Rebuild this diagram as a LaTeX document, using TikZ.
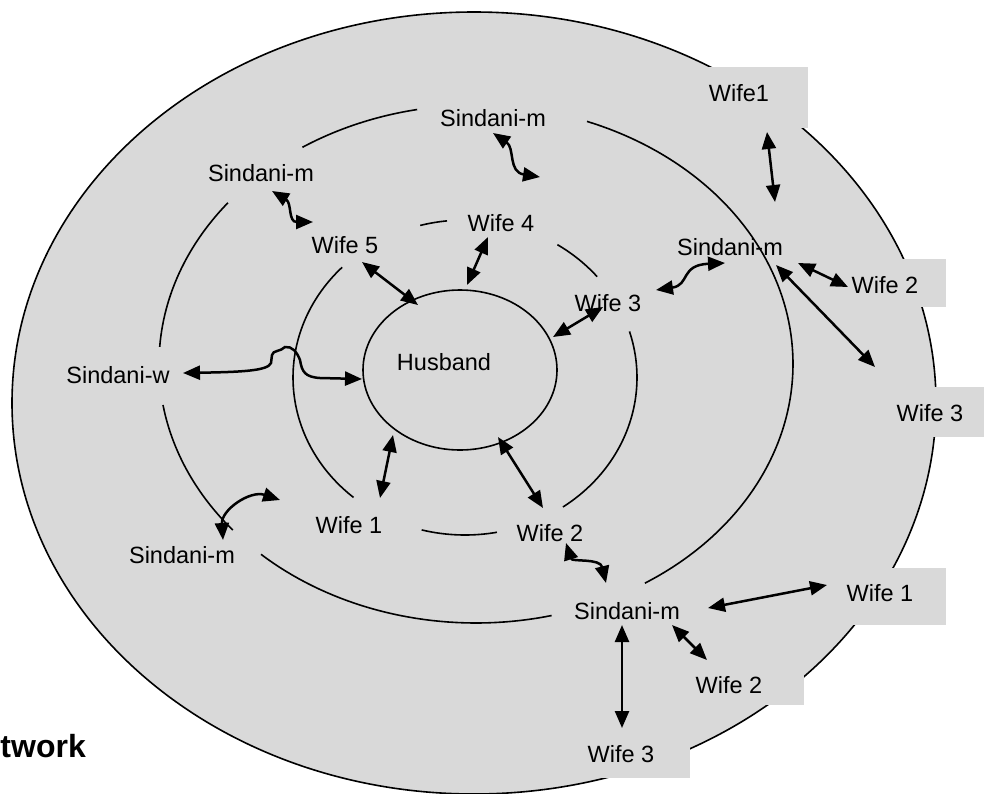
\documentclass[tikz,border=0pt]{standalone}
\usepackage{fontspec}
\setmainfont{Liberation Sans}
\usetikzlibrary{arrows.meta,shapes.geometric}
\definecolor{ringgray}{RGB}{217,217,217}
\newcommand\lbfont{\fontsize{23.5}{28}\selectfont}
\newcommand\ttlfont{\fontsize{32}{36}\selectfont\bfseries}
\begin{document}
\begin{tikzpicture}[x=1pt,y=-1pt,
  ring/.style={line width=1.6pt},
  arr/.style={line width=2.5pt,{Triangle[length=17pt,width=14pt]}-{Triangle[length=17pt,width=14pt]}},
  lbl/.style={inner sep=0pt,font=\lbfont},
  gbox/.style={fill=ringgray,draw=none}]
\useasboundingbox (0,0) rectangle (984,793);
% outer ellipse
\filldraw[ring,fill=ringgray] (474,403) ellipse [x radius=462pt, y radius=391pt];
% label boxes that cover the outline
\path[gbox] (670,67) rectangle (808,128);
\path[gbox] (824,259) rectangle (946,307);
\path[gbox] (876,387) rectangle (984,437);
\path[gbox] (815,568) rectangle (946,625);
\path[gbox] (655,665) rectangle (804,705);
\path[gbox] (552,730) rectangle (690,778);
% ring 3 (Sindani ring)
\draw[ring] plot[domain=290.5:417.8,samples=90,variable=\t] ({476+317*cos(\t)},{364+259*sin(\t)});
\draw[ring] plot[domain=76.2:132.7,samples=40,variable=\t] ({476+317*cos(\t)},{364+259*sin(\t)});
\draw[ring] plot[domain=140.1:170.9,samples=30,variable=\t] ({476+317*cos(\t)},{364+259*sin(\t)});
\draw[ring] plot[domain=183.8:218.5,samples=30,variable=\t] ({476+317*cos(\t)},{364+259*sin(\t)});
\draw[ring] plot[domain=236.8:259.3,samples=30,variable=\t] ({476+317*cos(\t)},{364+259*sin(\t)});
% ring 2 (wife ring)
\draw[ring] plot[domain=130.4:224.4,samples=60,variable=\t] ({465+172*cos(\t)},{377.5+157.5*sin(\t)});
\draw[ring] plot[domain=254.9:264,samples=10,variable=\t] ({465+172*cos(\t)},{377.5+157.5*sin(\t)});
\draw[ring] plot[domain=302.5:320.2,samples=15,variable=\t] ({465+172*cos(\t)},{377.5+157.5*sin(\t)});
\draw[ring] plot[domain=343:415.3,samples=50,variable=\t] ({465+172*cos(\t)},{377.5+157.5*sin(\t)});
\draw[ring] plot[domain=79.3:104.6,samples=20,variable=\t] ({465+172*cos(\t)},{377.5+157.5*sin(\t)});
% husband
\node[ring,draw,ellipse,inner sep=0pt,minimum width=194pt,minimum height=160pt] (hb) at (460,370) {};
% labels
\node[lbl] (husband) at (444,362) {Husband};
\node[lbl] (smT) at (493,118) {Sindani-m};
\node[lbl] (smUL) at (261,173) {Sindani-m};
\node[lbl] (w5) at (345,245) {Wife 5};
\node[lbl] (w4) at (501,223) {Wife 4};
\node[lbl] (w3i) at (608,303) {Wife 3};
\node[lbl] (smUR) at (730,247) {Sindani-m};
\node[lbl] (w1T) at (739,93) {Wife1};
\node[lbl] (w2R) at (885,285) {Wife 2};
\node[lbl] (w3R) at (930,413) {Wife 3};
\node[lbl] (sw) at (118,375) {Sindani-w};
\node[lbl] (smLL) at (182,555) {Sindani-m};
\node[lbl] (w1i) at (349,525) {Wife 1};
\node[lbl] (w2i) at (550,533) {Wife 2};
\node[lbl] (smB) at (627,611) {Sindani-m};
\node[lbl] (w1LR) at (880,593) {Wife 1};
\node[lbl] (w2L) at (729,685) {Wife 2};
\node[lbl] (w3B) at (621,754) {Wife 3};
\node[inner sep=0pt,font=\ttlfont,anchor=base east] (ttl) at (86,757) {twork};
% arrow end points
\coordinate (a1s) at (493,133); \coordinate (a1e) at (540,177);
\coordinate (a2s) at (272,191); \coordinate (a2e) at (313,222);
\coordinate (a3s) at (362,262); \coordinate (a3e) at (418,305);
\coordinate (a4s) at (488,237); \coordinate (a4e) at (467,285);
\coordinate (a5s) at (553,337); \coordinate (a5e) at (603,307);
\coordinate (a6s) at (656,290); \coordinate (a6e) at (725,263);
\coordinate (a7s) at (767,132); \coordinate (a7e) at (775,202);
\coordinate (a8s) at (798,263); \coordinate (a8e) at (848,287);
\coordinate (a9s) at (776,265); \coordinate (a9e) at (875,367);
\coordinate (a10s) at (183,373); \coordinate (a10e) at (362,379);
\coordinate (a11s) at (223,540); \coordinate (a11e) at (280,500);
\coordinate (a12s) at (380,498); \coordinate (a12e) at (393,435);
\coordinate (a13s) at (498,437); \coordinate (a13e) at (543,508);
\coordinate (a14s) at (566,543); \coordinate (a14e) at (606,583);
\coordinate (a15s) at (708,608); \coordinate (a15e) at (827,585);
\coordinate (a16s) at (672,625); \coordinate (a16e) at (707,660);
\coordinate (a17s) at (622,625); \coordinate (a17e) at (622,728);
% arrows
\draw[arr] (a1s) .. controls (515,148) and (508,172) .. (a1e);
\draw[arr] (a2s) .. controls (292,203) and (288,222) .. (a2e);
\draw[arr] (a3s) -- (a3e);
\draw[arr] (a4s) -- (a4e);
\draw[arr] (a5s) -- (a5e);
\draw[arr] (a6s) .. controls (690,285) and (680,265) .. (a6e);
\draw[arr] (a7s) -- (a7e);
\draw[arr] (a8s) -- (a8e);
\draw[arr] (a9s) -- (a9e);
\draw[arr] (a10s) .. controls (240,372) and (268,371) .. (271,363) -- (272,355)
  .. controls (273,350) and (280,352) .. (285,347)
  .. controls (292,346) and (297,352) .. (300,360)
  .. controls (302,372) and (305,377) .. (320,378) -- (a10e);
\draw[arr] (a11s) .. controls (221,510) and (250,490) .. (a11e);
\draw[arr] (a12s) -- (a12e);
\draw[arr] (a13s) -- (a13e);
\draw[arr] (a14s) .. controls (572,562) and (600,558) .. (a14e);
\draw[arr] (a15s) -- (a15e);
\draw[arr] (a16s) -- (a16e);
\draw[arr] (a17s) -- (a17e);
\end{tikzpicture}
\end{document}
